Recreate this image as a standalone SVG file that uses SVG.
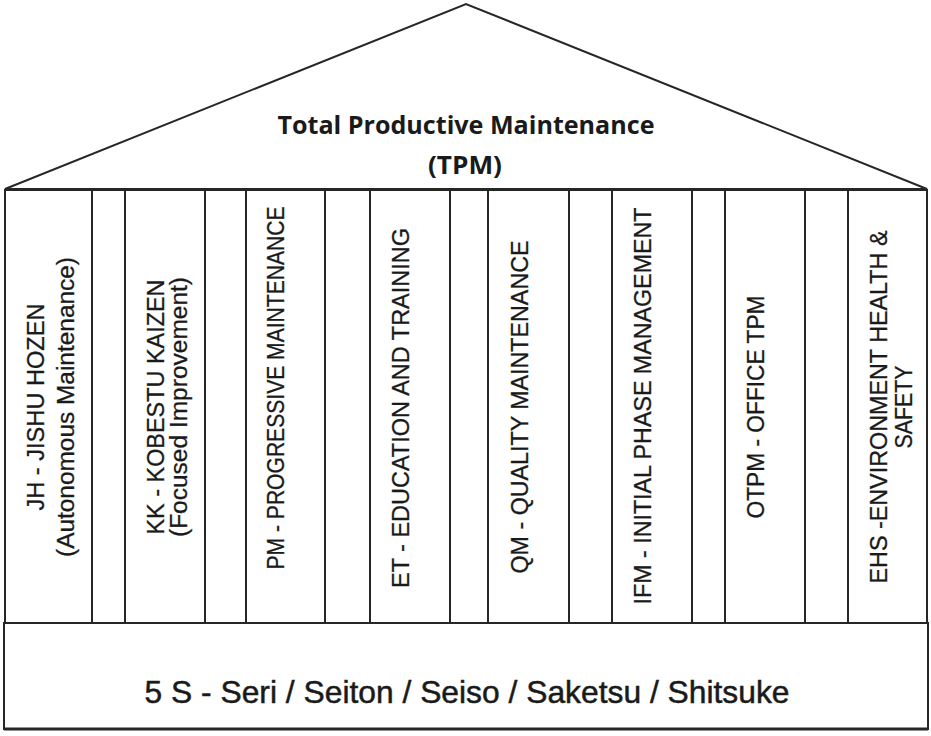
<svg xmlns="http://www.w3.org/2000/svg" width="931" height="736" viewBox="0 0 931 736">
<style>
.ln{fill:none;stroke:#262626;stroke-width:2}
.pl{fill:#ffffff;stroke:#262626;stroke-width:2}
.vt{font-family:"Liberation Sans",Arial,sans-serif;font-size:23px;fill:#1a1a1a;stroke:#1a1a1a;stroke-width:0.3;text-anchor:middle}
.tt{font-family:"Open Sans","Liberation Sans",sans-serif;font-weight:bold;font-size:25px;fill:#1a1a1a;text-anchor:middle}
.bt{font-family:"Liberation Sans Narrow","Liberation Sans",Arial,sans-serif;font-size:32px;fill:#1a1a1a;stroke:#1a1a1a;stroke-width:0.5;text-anchor:middle}
</style>
<rect width="931" height="736" fill="#ffffff"/>
<g id="roof">
<path class="ln" d="M5,189 L466,4 L927,189 Z"/>
<text class="tt" x="466" y="134" textLength="377" lengthAdjust="spacingAndGlyphs">Total Productive Maintenance</text>
<text class="tt" x="465" y="174" textLength="74" lengthAdjust="spacingAndGlyphs">(TPM)</text>
</g>
<g id="pillars-frame">
<line class="ln" x1="5" y1="190" x2="927" y2="190"/>
</g>
<g id="pillar-jh">
<rect class="pl" x="5" y="190" width="87" height="433"/>
<text class="vt" transform="translate(44,407) rotate(-90)" textLength="207" lengthAdjust="spacingAndGlyphs">JH - JISHU HOZEN</text>
<text class="vt" transform="translate(74,407) rotate(-90)" textLength="300" lengthAdjust="spacingAndGlyphs">(Autonomous Maintenance)</text>
</g>
<g id="pillar-kk">
<rect class="pl" x="125" y="190" width="80" height="433"/>
<text class="vt" transform="translate(164,407) rotate(-90)" textLength="255" lengthAdjust="spacingAndGlyphs">KK - KOBESTU KAIZEN</text>
<text class="vt" transform="translate(187,407) rotate(-90)" textLength="260" lengthAdjust="spacingAndGlyphs">(Focused Improvement)</text>
</g>
<g id="pillar-pm">
<rect class="pl" x="246" y="190" width="79" height="433"/>
<text class="vt" transform="translate(284,388) rotate(-90)" textLength="363" lengthAdjust="spacingAndGlyphs">PM - PROGRESSIVE MAINTENANCE</text>
</g>
<g id="pillar-et">
<rect class="pl" x="370" y="190" width="80" height="433"/>
<text class="vt" transform="translate(409,408) rotate(-90)" textLength="360" lengthAdjust="spacingAndGlyphs">ET - EDUCATION AND TRAINING</text>
</g>
<g id="pillar-qm">
<rect class="pl" x="488" y="190" width="81" height="433"/>
<text class="vt" transform="translate(528,407) rotate(-90)" textLength="333" lengthAdjust="spacingAndGlyphs">QM - QUALITY MAINTENANCE</text>
</g>
<g id="pillar-ifm">
<rect class="pl" x="612" y="190" width="80" height="433"/>
<text class="vt" transform="translate(651,406) rotate(-90)" textLength="397" lengthAdjust="spacingAndGlyphs">IFM - INITIAL PHASE MANAGEMENT</text>
</g>
<g id="pillar-otpm">
<rect class="pl" x="725" y="190" width="80" height="433"/>
<text class="vt" transform="translate(764,407) rotate(-90)" textLength="223" lengthAdjust="spacingAndGlyphs">OTPM - OFFICE TPM</text>
</g>
<g id="pillar-ehs">
<rect class="pl" x="848" y="190" width="79" height="433"/>
<text class="vt" transform="translate(887,407) rotate(-90)" textLength="353" lengthAdjust="spacingAndGlyphs">EHS -ENVIRONMENT HEALTH &amp;</text>
<text class="vt" transform="translate(912,407) rotate(-90)" textLength="83" lengthAdjust="spacingAndGlyphs">SAFETY</text>
</g>
<g id="base">
<rect class="pl" x="4" y="623" width="924" height="106"/>
<line x1="4" y1="729" x2="928" y2="729" stroke="#262626" stroke-width="3"/>
<text class="bt" x="467" y="703" textLength="645" lengthAdjust="spacingAndGlyphs">5 S - Seri / Seiton / Seiso / Saketsu / Shitsuke</text>
</g>
<g id="connectors"></g>
</svg>
